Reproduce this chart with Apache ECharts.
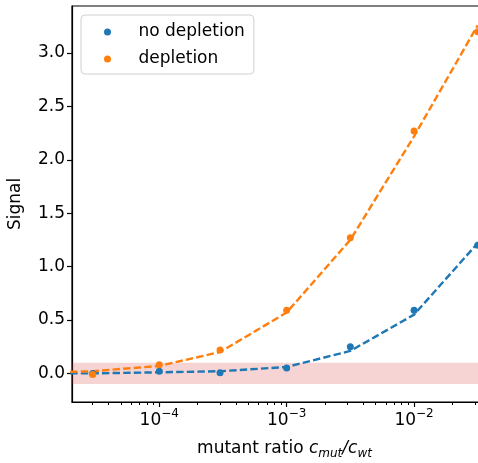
<!DOCTYPE html>
<html lang="en">
<head>
  <meta charset="UTF-8">
  <title>Signal vs mutant ratio</title>
  <style>
    html, body{margin: 0; padding: 0; background: #fff}
    #chart{width: 478px; height: 463px}
  </style>
  <script src="https://cdn.jsdelivr.net/npm/echarts@6/dist/echarts.min.js"></script>
</head>
<body>
  <div id="chart"></div>
  <script>
    // concentrations (mutant / wild type)
    const ratios = [3e-5, 1e-4, 3e-4, 1e-3, 3.16e-3, 1e-2, 3.16e-2];
    const noDepletion = [0.0, 0.02, 0.005, 0.05, 0.25, 0.59, 1.2];
    const depletion = [-0.01, 0.08, 0.22, 0.59, 1.27, 2.27, 3.2];

    // dashed fit curves
    const fitRatios = [2e-5, 3e-5, 1e-4, 3e-4, 1e-3, 3.16e-3, 1e-2, 3.16e-2];
    const fitNoDepletion = [0.0, 0.0, 0.01, 0.02, 0.06, 0.21, 0.55, 1.22];
    const fitDepletion = [0.015, 0.02, 0.07, 0.2, 0.57, 1.25, 2.22, 3.26];

    const yTicks = [0, 0.5, 1.0, 1.5, 2.0, 2.5, 3.0];
    const xTicks = [1e-4, 1e-3, 1e-2];
    const band = [-0.1, 0.1];

    const blue = '#1f77b4', orange = '#ff7f0e';
    const font = 'DejaVu Sans';

    const pts = (xs, ys) => xs.map((x, i) => [Math.log10(x), ys[i]]);
    const majorLog = xTicks.map(v => Math.log10(v));
    let minorLog = [];
    for (let n = -5; n <= -1; n++) {
      for (let k = 2; k <= 9; k++) minorLog.push(Math.log10(k * Math.pow(10, n)));
    }
    const xMin = -4.685, xMax = -1.349;
    minorLog = minorLog.filter(v => v > xMin && v < xMax);

    const chart = echarts.init(document.getElementById('chart'));
    const dash = [7.4, 3.2];

    chart.setOption({
      animation: false,
      textStyle: {fontFamily: font},
      grid: {left: 72, top: 6, width: 425, height: 396, show: true,
        containLabel: false, outerBoundsMode: 'none',
        borderColor: '#000', borderWidth: 1.2, backgroundColor: 'transparent'},
      legend: {
        data: ['no depletion', 'depletion'],
        orient: 'vertical', left: 81, top: 15,
        padding: [7, 9, 5, 23], itemGap: 7,
        itemWidth: 52, itemHeight: 7,
        borderColor: '#d0d0d0', borderWidth: 1, borderRadius: 4,
        backgroundColor: 'rgba(255,255,255,0.8)',
        textStyle: {fontSize: 17, color: '#000', lineHeight: 20, fontFamily: font}
      },
      xAxis: [{
        type: 'value', min: xMin, max: xMax,
        name: '{t|mutant ratio }{i|c}{s|mut}{i|/c}{s|wt}',
        nameLocation: 'middle', nameGap: 36,
        nameTextStyle: {rich: {
          t: {fontSize: 17, fontFamily: font, color: '#000', lineHeight: 22},
          i: {fontSize: 17, fontFamily: font, fontStyle: 'italic', color: '#000', lineHeight: 22},
          s: {fontSize: 12, fontFamily: font, fontStyle: 'italic', color: '#000', verticalAlign: 'bottom', lineHeight: 14}
        }},
        axisLine: {show: true, onZero: false, lineStyle: {color: '#000', width: 1.2}},
        splitLine: {show: false},
        axisTick: {show: true, length: 5, customValues: majorLog, lineStyle: {color: '#000', width: 1.2}},
        axisLabel: {
          customValues: majorLog, margin: 6, color: '#000',
          formatter: v => '{b|10}{s|\u2212' + Math.round(Math.abs(v)) + '}',
          rich: {
            b: {fontSize: 17, fontFamily: font, lineHeight: 26, color: '#000'},
            s: {fontSize: 12, fontFamily: font, lineHeight: 12, verticalAlign: 'top', color: '#000'}
          }
        }
      }, {
        type: 'value', min: xMin, max: xMax, position: 'bottom',
        axisLine: {show: false, onZero: false}, splitLine: {show: false}, axisLabel: {show: false},
        axisTick: {show: true, length: 3, customValues: minorLog, lineStyle: {color: '#000', width: 1}}
      }],
      yAxis: {
        type: 'value', min: -0.268, max: 3.44,
        name: 'Signal', nameLocation: 'middle', nameGap: 48,
        nameTextStyle: {fontSize: 17, color: '#000', fontFamily: font},
        axisLine: {show: true, onZero: false, lineStyle: {color: '#000', width: 1.2}},
        splitLine: {show: false},
        axisTick: {show: true, length: 5, customValues: yTicks, lineStyle: {color: '#000', width: 1.2}},
        axisLabel: {customValues: yTicks, margin: 7, fontSize: 17, color: '#000',
          formatter: v => v.toFixed(1)}
      },
      series: [{
        name: 'band', type: 'line', data: [], z: 0, silent: true,
        markArea: {silent: true, itemStyle: {color: 'rgba(214,39,40,0.2)'},
          data: [[{yAxis: band[0]}, {yAxis: band[1]}]]}
      }, {
        name: 'fit no depletion', type: 'line', data: pts(fitRatios, fitNoDepletion),
        showSymbol: false, z: 2, lineStyle: {color: blue, width: 2.4, type: dash}
      }, {
        name: 'fit depletion', type: 'line', data: pts(fitRatios, fitDepletion),
        showSymbol: false, z: 2, lineStyle: {color: orange, width: 2.4, type: dash}
      }, {
        name: 'no depletion', type: 'scatter', data: pts(ratios, noDepletion),
        symbolSize: 7, z: 3, itemStyle: {color: blue, opacity: 1}
      }, {
        name: 'depletion', type: 'scatter', data: pts(ratios, depletion),
        symbolSize: 7, z: 3, itemStyle: {color: orange, opacity: 1}
      }]
    });
  </script>
</body>
</html>
